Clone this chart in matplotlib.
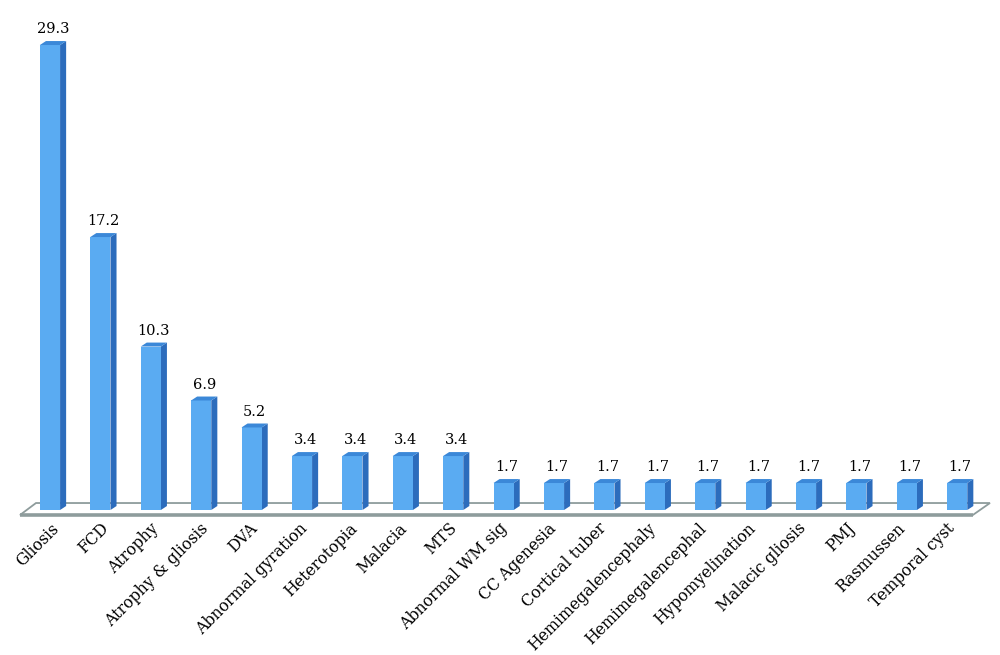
import matplotlib
matplotlib.use('Agg')
import matplotlib.pyplot as plt
from matplotlib.patches import Polygon

categories = ['Gliosis', 'FCD', 'Atrophy', 'Atrophy & gliosis', 'DVA', 'Abnormal gyration',
              'Heterotopia', 'Malacia', 'MTS', 'Abnormal WM sig', 'CC Agenesia', 'Cortical tuber',
              'Hemimegalencephaly', 'Hemimegalencephal', 'Hypomyelination', 'Malacic gliosis',
              'PMJ', 'Rasmussen', 'Temporal cyst']
values = [29.3, 17.2, 10.3, 6.9, 5.2, 3.4, 3.4, 3.4, 3.4, 1.7, 1.7, 1.7,
          1.7, 1.7, 1.7, 1.7, 1.7, 1.7, 1.7]
value_labels = ['29.3', '17.2', '10.3', '6.9', '5.2', '3.4', '3.4', '3.4', '3.4', '1.7', '1.7',
                '1.7', '1.7', '1.7', '1.7', '1.7', '1.7', '1.7', '1.7']

front_color = '#5aabf2'
side_color = '#2c6cbc'
top_color = '#3b88d8'
floor_color = '#8e9c9c'

fig = plt.figure(figsize=(10, 6.55), dpi=100)
ax = fig.add_axes([0, 0, 1, 1])
# pixel layout: first bar centre at 50px, 50.4px per bar, zero line at 510px from top, 15.87px per unit
ax.set_xlim(-50 / 50.4, 950 / 50.4)
ax.set_ylim(-145 / 15.87, 510 / 15.87)
ax.axis('off')

n = len(categories)
w = 0.4      # bar front width
dx = 0.12    # depth offset in x
dy = 0.25    # depth offset in y

# floor of the pseudo 3D plot
floor_x = [-0.595, -0.278, 18.65, 18.31]
floor_y = [-0.315, 0.44, 0.44, -0.315]
floor = Polygon(list(zip(floor_x, floor_y)), closed=True, facecolor='white',
                edgecolor=floor_color, linewidth=1.3, zorder=1)
ax.add_patch(floor)
ax.plot([floor_x[0], floor_x[3]], [floor_y[0], floor_y[3]], color=floor_color, lw=2.6,
        solid_capstyle='butt', zorder=1)

x = list(range(n))
ax.bar(x, values, width=w, color=front_color, zorder=3, linewidth=0)
for i, v in enumerate(values):
    left, right = i - w / 2, i + w / 2
    side = Polygon([(right, 0), (right + dx, dy), (right + dx, v + dy), (right, v)],
                   closed=True, facecolor=side_color, edgecolor='none', zorder=2)
    top = Polygon([(left, v), (left + dx, v + dy), (right + dx, v + dy), (right, v)],
                  closed=True, facecolor=top_color, edgecolor='none', zorder=3)
    ax.add_patch(side)
    ax.add_patch(top)
    ax.text(i + dx / 2, v + dy + 0.3, value_labels[i], ha='center', va='bottom',
            fontsize=10.5, family='DejaVu Serif', color='black', zorder=4)
    # category labels sit a touch closer together than the bars
    ax.text(i * 0.988 + 0.12, -1.0, categories[i], ha='right', va='center', rotation=45,
            rotation_mode='anchor', fontsize=11.3, family='DejaVu Serif', color='black')

plt.savefig('out.png', dpi=100)
